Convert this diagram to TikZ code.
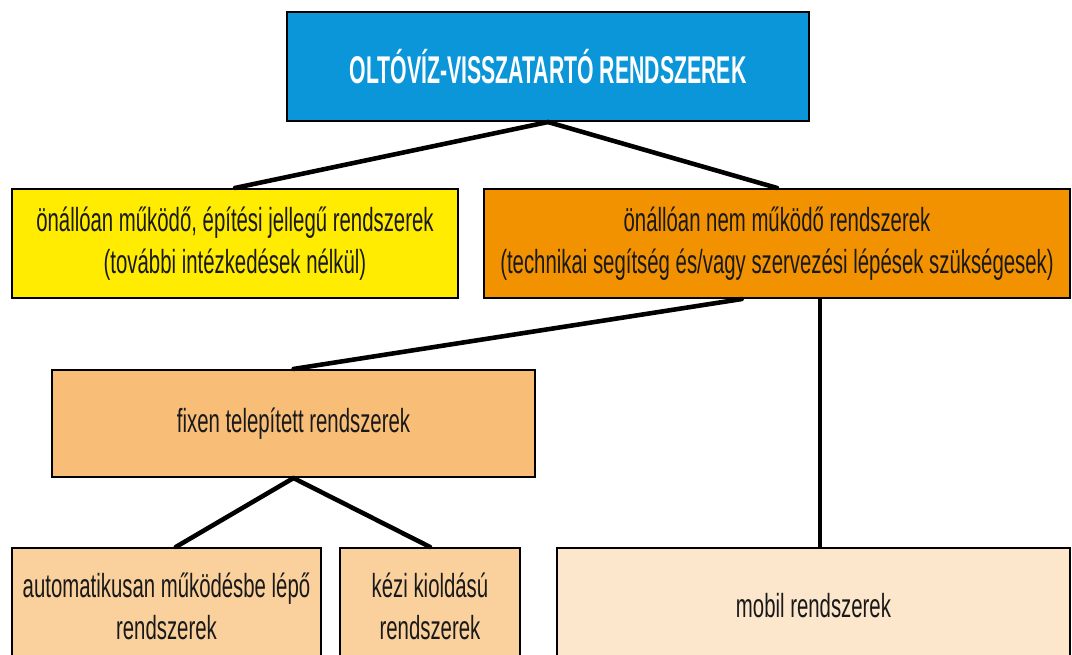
\documentclass[tikz,border=0pt]{standalone}
\usepackage{fontspec}
\setmainfont{Liberation Sans}[FakeStretch=0.61]
\newfontfamily\titlefont{Liberation Sans}[FakeStretch=0.55]
\usetikzlibrary{calc}
\definecolor{TitleBlue}{HTML}{0A96D8}
\definecolor{SelfYellow}{HTML}{FFEC00}
\definecolor{HelpOrange}{HTML}{F39200}
\definecolor{FixedTan}{HTML}{F8BE78}
\definecolor{SubTan}{HTML}{FAD09C}
\definecolor{MobilCream}{HTML}{FCE7CD}

\begin{document}
\begin{tikzpicture}[x=0.02cm, y=-0.02cm,
  box/.style={draw=black, line width=1.2pt, align=center, inner sep=0pt,
    font=\fontsize{19}{24}\selectfont, text=black!90},
  link/.style={line width=2.6pt, line cap=round}]
\clip (0,0) rectangle (1072,655);

% Boxes
\node[box, fill=TitleBlue, minimum width=10.44cm, minimum height=2.18cm,
  text=white, font=\titlefont\fontsize{22}{26}\selectfont\bfseries] (root) at (548,66.5)
  {OLTÓVÍZ-VISSZATARTÓ RENDSZEREK};

\node[box, fill=SelfYellow, minimum width=8.92cm, minimum height=2.18cm] (self) at (235,243.5)
  {önállóan működő, építési jellegű rendszerek\\(további intézkedések nélkül)};
\node[box, fill=HelpOrange, minimum width=11.72cm, minimum height=2.18cm] (help) at (777,243.5)
  {önállóan nem működő rendszerek\\(technikai segítség és/vagy szervezési lépések szükségesek)};

\node[box, fill=FixedTan, minimum width=9.66cm, minimum height=2.14cm] (fixed) at (293.5,423.5)
  {fixen telepített rendszerek};

\node[box, fill=SubTan, minimum width=6.18cm, minimum height=2.32cm] (auto) at (166.5,606)
  {automatikusan működésbe lépő\\rendszerek};
\node[box, fill=SubTan, minimum width=3.6cm, minimum height=2.32cm] (manual) at (430,606)
  {kézi kioldású\\rendszerek};
\node[box, fill=MobilCream, minimum width=10.26cm, minimum height=2.32cm] (mobil) at (813.5,606)
  {mobil rendszerek};

% Connectors
\draw[link] (root.south) -- (self.north);
\draw[link] (root.south) -- (help.north);
\draw[link] ($(help.south west)!0.44!(help.south east)$) -- (fixed.north);
\coordinate (drop) at ($(help.south west)!0.573!(help.south east)$);
\draw[link, line width=2pt] (drop) -- (drop |- mobil.north);
\draw[link] (fixed.south) -- ($(auto.north west)!0.53!(auto.north east)$);
\draw[link] (fixed.south) -- (manual.north);
\end{tikzpicture}
\end{document}
